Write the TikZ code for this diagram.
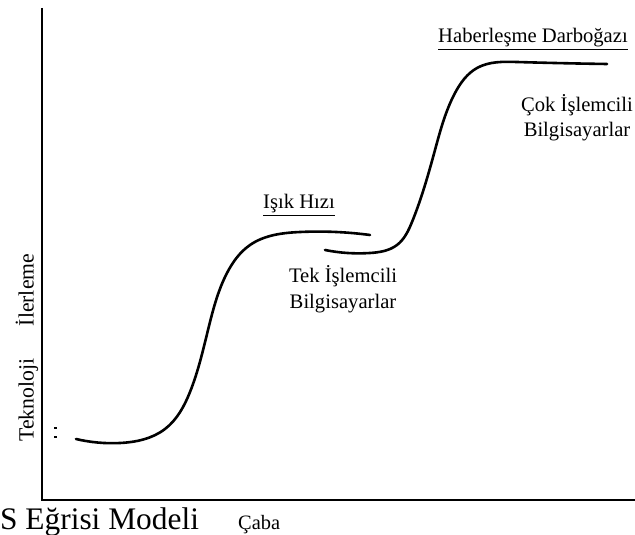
\documentclass[tikz,border=0pt]{standalone}
\usepackage{fontspec}
\setmainfont{Liberation Serif}
\usetikzlibrary{hobby}
\begin{document}
\begin{tikzpicture}[x=1bp,y=-1bp,
  lbl/.style={inner sep=0pt,font=\fontsize{20.7}{25}\selectfont},
  curve/.style={line width=2.6bp,line cap=round},
  axis/.style={line width=2.8bp}]
\useasboundingbox (0,0) rectangle (635,535);
\coordinate (top) at (42,8);
\coordinate (origin) at (42,500);
\coordinate (right) at (635,500);
\draw[axis] (top) -- (origin) -- (right);
% curves
\draw[curve] (76,439) to[curve through={(120,443) (165,429) (190,392) (210,322) (227,273) (250,245) (300,232)}] (370,235);
\draw[curve] (325,250) to[curve through={(370,253) (397,245) (412,222) (435,150) (455,93) (477,68) (517,62)}] (607,64);
% small marks
\fill (54,427.3) rectangle (57,429);
\fill (54,436.3) rectangle (57,438);
% labels
\node[lbl,anchor=base] (isik) at (299,209) {\underline{Işık Hızı}};
\node[lbl,anchor=base] (haber) at (533,43) {\underline{Haberleşme Darboğazı}};
\node[lbl,anchor=base] (tek1) at (343,282) {Tek İşlemcili};
\node[lbl,anchor=base] (tek2) at (343,308) {Bilgisayarlar};
\node[lbl,anchor=base] (cok1) at (577,112) {Çok İşlemcili};
\node[lbl,anchor=base] (cok2) at (577,137) {Bilgisayarlar};
\node[lbl,anchor=base,rotate=90,font=\fontsize{21.8}{25}\selectfont] (tekno) at (33.5,400) {Teknoloji};
\node[lbl,anchor=base,rotate=90,font=\fontsize{21.8}{25}\selectfont] (iler) at (33.5,290) {İlerleme};
\node[lbl,anchor=base west,font=\fontsize{31.5}{33}\selectfont] (model) at (0,529) {S Eğrisi Modeli};
\node[lbl,anchor=base west,font=\fontsize{20.5}{22}\selectfont] (caba) at (238,529) {Çaba};
\end{tikzpicture}
\end{document}
